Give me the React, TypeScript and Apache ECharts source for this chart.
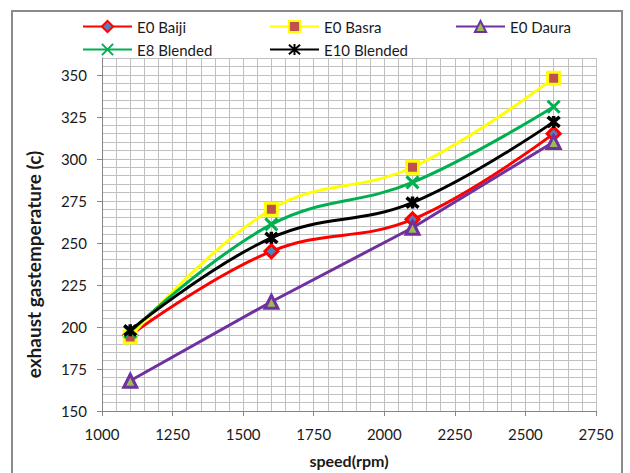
import React, { useEffect, useRef } from "react";
import * as echarts from "echarts";

// Engine speed (rpm) at which each exhaust temperature was measured
const speeds = [1100, 1600, 2100, 2600];

// Exhaust gas temperature (c) per fuel
const e0Baiji = [195, 245, 264, 315];
const e0Basra = [194, 270, 295, 348];
const e0Daura = [168, 215, 259, 310];
const e8Blended = [197, 261, 286, 331];
const e10Blended = [198, 253, 274, 322];

// Labelled ticks on each axis
const speedTicks = [1000, 1250, 1500, 1750, 2000, 2250, 2500, 2750];
const tempTicks = [150, 175, 200, 225, 250, 275, 300, 325, 350];

const FONT = "Lato, 'Open Sans', sans-serif";
const TEXT = "#1a1a1a";
const AXIS = "#868686";
const GRID = "#c0c0c0";

const crossSymbol = "path://M0,0L10,10M10,0L0,10";
const starSymbol = "path://M0,0L10,10M10,0L0,10M5,-1L5,11";

function lineSeries(
  name: string,
  values: number[],
  color: string,
  symbol: string,
  symbolSize: number,
  fill: string,
  border: number,
  smooth: number | boolean
) {
  return {
    name,
    type: "line",
    xAxisIndex: 0,
    yAxisIndex: 0,
    data: speeds.map((s, i) => [s, values[i]]),
    smooth,
    symbol,
    symbolSize,
    showAllSymbol: true,
    lineStyle: { color, width: 3 },
    itemStyle: { color: fill, borderColor: color, borderWidth: border },
    emphasis: { disabled: true },
  };
}

const plain = (v: number) => String(v);

export default function App() {
  const ref = useRef<HTMLDivElement>(null);

  useEffect(() => {
    if (!ref.current) return;
    const chart = echarts.init(ref.current, undefined, { renderer: "svg" });

    const legendBase = {
      orient: "vertical",
      top: 19,
      itemWidth: 49,
      itemHeight: 14,
      itemGap: 8,
      padding: 0,
      textStyle: { fontFamily: FONT, fontSize: 15, color: TEXT },
    };

    const titleStyle = { fontFamily: FONT, fontWeight: "bold", color: TEXT };

    chart.setOption({
      animation: false,
      backgroundColor: "transparent",
      textStyle: { fontFamily: FONT },
      grid: { left: 102, right: 34, top: 58, bottom: 61, containLabel: false },
      legend: [
        { ...legendBase, left: 82, data: ["E0 Baiji", "E8 Blended"] },
        { ...legendBase, left: 269, data: ["E0 Basra", "E10 Blended"] },
        { ...legendBase, left: 455, data: ["E0 Daura"] },
      ],
      xAxis: [
        // fine grid every 50 rpm; carries the data
        {
          type: "value",
          min: 1000,
          max: 2750,
          interval: 50,
          position: "bottom",
          axisLine: { show: true, lineStyle: { color: AXIS, width: 1 } },
          axisTick: { show: false },
          axisLabel: { show: false },
          splitLine: { show: true, lineStyle: { color: GRID, width: 1 } },
        },
        // labelled ticks every 250 rpm
        {
          type: "value",
          min: 1000,
          max: 2750,
          position: "bottom",
          name: "speed(rpm)",
          nameLocation: "middle",
          nameGap: 41,
          nameTextStyle: { ...titleStyle, fontSize: 16 },
          axisLine: { show: false },
          axisTick: { show: true, customValues: speedTicks, length: 5, lineStyle: { color: AXIS } },
          axisLabel: {
            customValues: speedTicks,
            formatter: plain,
            fontFamily: FONT,
            fontSize: 15,
            color: TEXT,
            margin: 15,
          },
          splitLine: { show: false },
        },
      ],
      yAxis: [
        // fine grid every 5 degrees; carries the data
        {
          type: "value",
          min: 150,
          max: 360,
          interval: 5,
          position: "left",
          axisLine: { show: true, lineStyle: { color: AXIS, width: 1 } },
          axisTick: { show: false },
          axisLabel: { show: false },
          splitLine: { show: true, lineStyle: { color: GRID, width: 1 } },
        },
        // labelled ticks every 25 degrees
        {
          type: "value",
          min: 150,
          max: 360,
          position: "left",
          name: "exhaust gastemperature (c)",
          nameLocation: "middle",
          nameGap: 59,
          nameTextStyle: { ...titleStyle, fontSize: 19, padding: [0, 60, 0, 0] },
          axisLine: { show: false },
          axisTick: { show: true, customValues: tempTicks, length: 5, lineStyle: { color: AXIS } },
          axisLabel: {
            customValues: tempTicks,
            formatter: plain,
            fontFamily: FONT,
            fontSize: 15,
            color: TEXT,
            margin: 15,
          },
          splitLine: { show: false },
        },
      ],
      series: [
        lineSeries("E0 Baiji", e0Baiji, "#ff0000", "diamond", 13, "#4f81bd", 3, 0.4),
        lineSeries("E0 Basra", e0Basra, "#ffff00", "rect", 12, "#c0504d", 3, 0.4),
        lineSeries("E0 Daura", e0Daura, "#7030a0", "triangle", 13, "#9bbb59", 3, false),
        lineSeries("E8 Blended", e8Blended, "#00b050", crossSymbol, 12, "#00b050", 3, 0.4),
        lineSeries("E10 Blended", e10Blended, "#000000", starSymbol, 12, "#000000", 3.5, 0.4),
      ],
    });

    return () => chart.dispose();
  }, []);

  return (
    <div
      style={{
        position: "fixed",
        left: 0,
        top: 0,
        width: 630,
        height: 473,
        background: "#ffffff",
        overflow: "hidden",
      }}
    >
      <div
        style={{
          position: "absolute",
          left: 11,
          top: 10,
          width: 612,
          height: 480,
          border: "2px solid #8a8a8a",
          boxSizing: "border-box",
        }}
      />
      <div ref={ref} style={{ position: "absolute", left: 0, top: 0, width: 630, height: 473 }} />
    </div>
  );
}
